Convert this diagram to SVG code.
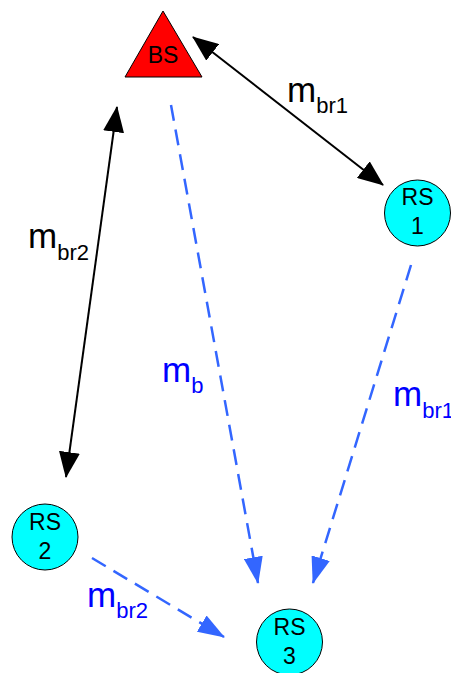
<svg xmlns="http://www.w3.org/2000/svg" width="451" height="673" viewBox="0 0 451 673">
<style>
.lbl{font-family:"Liberation Sans",Arial,sans-serif;font-size:35px}
.sub{font-size:22px}
.blk{fill:#000}
.blu{fill:#0000FF}
.node text{font-family:"Liberation Sans",Arial,sans-serif;font-size:23px;fill:#000;text-anchor:middle}
.rs{fill:#00FFFF;stroke:#000;stroke-width:1}
.solid{stroke:#000;stroke-width:2;fill:none}
.dash{stroke:#3366FF;stroke-width:2.5;fill:none;stroke-dasharray:16 9}
</style>
<defs>
<marker id="ak" markerUnits="userSpaceOnUse" markerWidth="26" markerHeight="21" refX="25" refY="10.5" orient="auto-start-reverse" viewBox="0 0 26 21"><path d="M0,0 L26,10.5 L0,21 z" fill="#000"/></marker>
<marker id="ab" markerUnits="userSpaceOnUse" markerWidth="27" markerHeight="19" refX="26" refY="9.5" orient="auto" viewBox="0 0 27 19"><path d="M0,0 L27,9.5 L0,19 z" fill="#3366FF"/></marker>
</defs>
<g id="connectors">
<line class="solid" x1="193" y1="37" x2="383" y2="185" marker-start="url(#ak)" marker-end="url(#ak)"/>
<line class="solid" x1="117" y1="107" x2="66" y2="477" marker-start="url(#ak)" marker-end="url(#ak)"/>
<line class="dash" x1="171" y1="105" x2="258" y2="583" marker-end="url(#ab)"/>
<line class="dash" x1="411" y1="265" x2="313" y2="583" marker-end="url(#ab)"/>
<line class="dash" x1="92" y1="558" x2="224" y2="637" marker-end="url(#ab)"/>
</g>
<g id="labels">
<text class="lbl blk" x="287" y="102">m<tspan class="sub" dy="11">br1</tspan></text>
<text class="lbl blk" x="28" y="248">m<tspan class="sub" dy="12">br2</tspan></text>
<text class="lbl blu" x="162" y="382">m<tspan class="sub" dy="11">b</tspan></text>
<text class="lbl blu" x="393" y="406">m<tspan class="sub" dy="12">br1</tspan></text>
<text class="lbl blu" x="87" y="607">m<tspan class="sub" dy="11">br2</tspan></text>
</g>
<g id="BS" class="node">
<polygon points="163,11 125,77 202,77" fill="#FF0000" stroke="#000" stroke-width="1"/>
<text x="163" y="63">BS</text>
</g>
<g id="RS1" class="node">
<circle class="rs" cx="417.5" cy="213" r="33"/>
<text x="417.5" y="205">RS</text>
<text x="417.5" y="234">1</text>
</g>
<g id="RS2" class="node">
<circle class="rs" cx="45" cy="537" r="33"/>
<text x="45" y="530">RS</text>
<text x="45" y="559">2</text>
</g>
<g id="RS3" class="node">
<circle class="rs" cx="289.5" cy="642" r="33"/>
<text x="289.5" y="635">RS</text>
<text x="289.5" y="664">3</text>
</g>
</svg>
